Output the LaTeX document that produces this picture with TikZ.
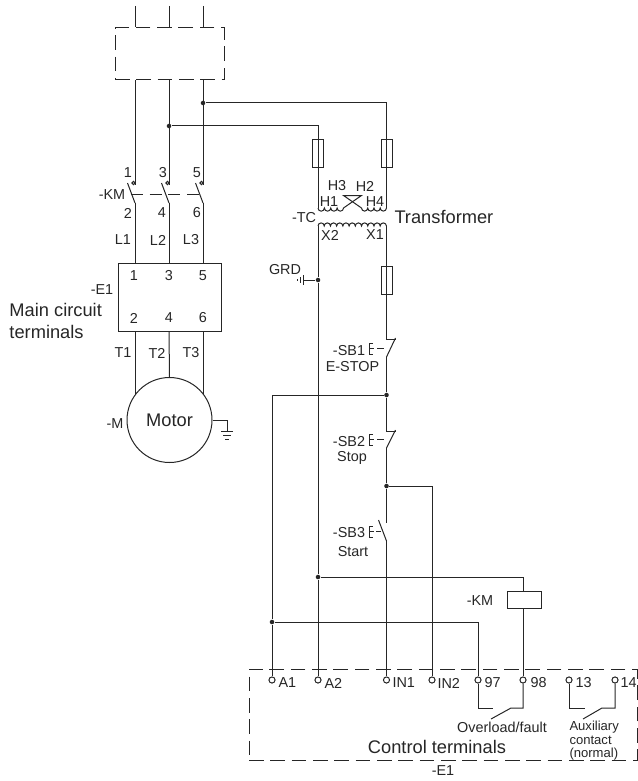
\documentclass[tikz,border=0pt]{standalone}
\usepackage{fontspec}
\setmainfont{Liberation Sans}
\definecolor{ink}{gray}{0.15}
\begin{document}
\begin{tikzpicture}[x=0.75pt,y=-0.75pt,line width=0.75pt,draw=ink,text=ink,
    lbl/.style={inner sep=0pt,font=\fontsize{10.8}{13}\selectfont},
    big/.style={inner sep=0pt,font=\fontsize{13.7}{16.5}\selectfont},
    tiny/.style={inner sep=0pt,font=\fontsize{9.8}{9.8}\selectfont},
    junction/.style={circle,fill=ink,draw=none,inner sep=0pt,minimum size=3.4pt},
    terminal/.style={circle,draw,fill=white,inner sep=0pt,minimum size=4.6pt},
    tip/.style={circle,draw,inner sep=0pt,minimum size=2.4pt},
    fuse/.style={rectangle,draw,inner sep=0pt,minimum width=8.25pt,minimum height=21pt},
    dashbox/.style={rectangle,draw,inner sep=0pt,dash pattern=on 11pt off 5pt}]
    \useasboundingbox (0,0) rectangle (638,781);

    % disconnect and main power
    \node[dashbox,minimum width=81.75pt,minimum height=39pt] (disc) at (169.5,54) {};
    \coordinate (l1) at (135,6);
    \coordinate (l2) at (169,6);
    \coordinate (l3) at (203,6);
    \draw (l1) -- (l1 |- disc.north);
    \draw (l2) -- (l2 |- disc.north);
    \draw (l3) -- (l3 |- disc.north);

    \coordinate (c1) at (135,185);
    \coordinate (c3) at (169,185);
    \coordinate (c5) at (203,185);
    \node[tip] (tip1) at (133.5,183) {};
    \node[tip] (tip3) at (167.5,183) {};
    \node[tip] (tip5) at (201.5,183) {};
    \coordinate (c2) at (135,203);
    \coordinate (c4) at (169,203);
    \coordinate (c6) at (203,203);
    \coordinate (b1) at (127.5,183);
    \coordinate (b3) at (161.5,183);
    \coordinate (b5) at (195.5,183);
    \draw (c1 |- disc.south) -- (c1);
    \draw (c3 |- disc.south) -- (c3);
    \draw (c5 |- disc.south) -- (c5);
    \draw (b1) -- (c2);
    \draw (b3) -- (c4);
    \draw (b5) -- (c6);
    \coordinate (linka) at (131,194);
    \coordinate (linkb) at (199,194);
    \draw[dash pattern=on 9pt off 5pt] (linka) -- (linkb);

    \node[lbl] (n1) at (128,173) {1};
    \node[lbl] (n3) at (163,173) {3};
    \node[lbl] (n5) at (197,173) {5};
    \node[lbl] (km) at (112,195) {-KM};
    \node[lbl] (n2) at (128,213) {2};
    \node[lbl] (n4) at (162,213) {4};
    \node[lbl] (n6) at (197,213) {6};
    \node[lbl] (tl1) at (123,240) {L1};
    \node[lbl] (tl2) at (158,240) {L2};
    \node[lbl] (tl3) at (191,240) {L3};

    % main circuit terminals
    \node[rectangle,draw,inner sep=0pt,minimum width=77.25pt,minimum height=51pt] (main) at (169.5,297) {};
    \draw (c2) -- (c2 |- main.north);
    \draw (c4) -- (c4 |- main.north);
    \draw (c6) -- (c6 |- main.north);
    \node[lbl] (m1) at (134,276) {1};
    \node[lbl] (m3) at (169,276) {3};
    \node[lbl] (m5) at (203,276) {5};
    \node[lbl] (m2) at (134,318) {2};
    \node[lbl] (m4) at (169,318) {4};
    \node[lbl] (m6) at (203,318) {6};
    \node[lbl] (e1a) at (102,290) {-E1};
    \node[big,align=left,anchor=west] (mainlbl) at (9,321) {Main circuit\\terminals};
    \node[lbl] (t1) at (123,353) {T1};
    \node[lbl] (t2) at (157,353) {T2};
    \node[lbl] (t3) at (191,353) {T3};

    % motor
    \node[circle,draw,inner sep=0pt,minimum size=63.75pt,big] (motor) at (169.5,420) {Motor};
    \node[lbl] (m) at (115,424) {-M};
    \draw (c2 |- main.south) -- (135,394);
    \draw (c4 |- main.south) -- (motor.north);
    \draw (c6 |- main.south) -- (203,394);
    \coordinate (gnda) at (227,420);
    \coordinate (gndb) at (227,431);
    \draw (motor.east) -- (gnda) -- (gndb);
    \draw (221,431) -- (233,431);
    \draw (223,435.5) -- (231,435.5);
    \draw (225,439) -- (229,439);

    % feeds and fuses
    \node[junction] (j3) at (203,103) {};
    \node[junction] (j2) at (169,126) {};
    \node[fuse] (f1) at (318,154) {};
    \node[fuse] (f2) at (386.5,154) {};
    \node[fuse] (f3) at (386.5,280) {};
    \coordinate (f1top) at (318,126);
    \coordinate (f2top) at (386.5,103);
    \coordinate (h1) at (318,208);
    \coordinate (h4) at (386.5,208);
    \draw (j3) -- (f2top) -- (h4);
    \draw (j2) -- (f1top) -- (h1);

    % transformer
    \coordinate (x2) at (318,226);
    \coordinate (x1) at (386.5,226);
    \coordinate (xa) at (343.5,195.5);
    \coordinate (xb) at (361.5,195.5);
    \coordinate (xc) at (343.5,208);
    \coordinate (xd) at (361.5,208);
    \draw (h1) \foreach \i in {1,...,4} {arc[start angle=180,end angle=0,radius=3.19]};
    \draw (xd) \foreach \i in {1,...,4} {arc[start angle=180,end angle=0,radius=3.12]};
    \draw (xc) -- (xb) -- (xa) -- (xd);
    \draw (x2) \foreach \i in {1,...,11} {arc[start angle=180,end angle=360,radius=3.11]};
    \node[lbl] (h3) at (337,186) {H3};
    \node[lbl] (h2) at (365,186) {H2};
    \node[lbl] (h1l) at (329,202) {H1};
    \node[lbl] (h4l) at (375,202) {H4};
    \node[lbl] (x2l) at (330,235) {X2};
    \node[lbl] (x1l) at (375,235) {X1};
    \node[lbl] (tc) at (304,218) {-TC};
    \node[big,anchor=west] (xfmr) at (394,217) {Transformer};

    % ground on X2
    \node[junction] (jg) at (318,280) {};
    \coordinate (ga) at (303,280);
    \draw (ga) -- (jg);
    \draw (303,275) -- (303,285);
    \draw (300,277) -- (300,283);
    \draw (297,279) -- (297,281);
    \node[lbl] (grd) at (285,270) {GRD};

    % control circuit
    \draw (x1) -- (f3.north);
    \draw (f3.north) -- (f3.south);
    \coordinate (sb1a) at (386.5,339);
    \coordinate (sb1b) at (386.5,357);
    \coordinate (sb1c) at (396,339);
    \coordinate (sb1d) at (395.5,338);
    \draw (f3.south) -- (sb1a) -- (sb1c);
    \draw (sb1b) -- (sb1d);
    \draw (373,343) -- (369,343) -- (369,354) -- (373,354) (369,348.5) -- (374,348.5);
    \draw (377,348.5) -- (384,348.5);
    \node[lbl] (sb1) at (349,350.5) {-SB1};
    \node[lbl] (estop) at (352.5,367) {E-STOP};

    \node[junction] (j4) at (386.5,395) {};
    \coordinate (sb2a) at (386.5,431);
    \coordinate (sb2b) at (386.5,448);
    \coordinate (sb2c) at (396,431);
    \coordinate (sb2d) at (395.5,430);
    \draw (sb1b) -- (j4) -- (sb2a) -- (sb2c);
    \draw (sb2b) -- (sb2d);
    \draw (373,434) -- (369,434) -- (369,445) -- (373,445) (369,439.5) -- (374,439.5);
    \draw (377,439.5) -- (384,439.5);
    \node[lbl] (sb2) at (349,441.5) {-SB2};
    \node[lbl] (stop) at (352,458) {Stop};

    \node[junction] (j5) at (386.5,486) {};
    \coordinate (sb3a) at (386.5,523);
    \coordinate (sb3b) at (386.5,541);
    \coordinate (sb3c) at (378.5,520);
    \draw (sb2b) -- (j5) -- (sb3a);
    \draw (sb3c) -- (sb3b);
    \draw (373,526) -- (369,526) -- (369,537) -- (373,537) (369,531.5) -- (374,531.5);
    \draw (376,531.5) -- (381,531.5);
    \node[lbl] (sb3) at (349,532.5) {-SB3};
    \node[lbl] (start) at (353,552) {Start};

    % control terminals
    \node[dashbox,minimum width=291pt,minimum height=68.25pt] (ctrl) at (443,714.5) {};
    \node[terminal] (a1) at (272,680) {};
    \node[terminal] (a2) at (318,680) {};
    \node[terminal] (in1) at (386.5,680) {};
    \node[terminal] (in2) at (432,680) {};
    \node[terminal] (t97) at (478,680) {};
    \node[terminal] (t98) at (523,680) {};
    \node[terminal] (t13) at (569,680) {};
    \node[terminal] (t14) at (615,680) {};
    \node[lbl,anchor=west] (a1l) at (278,683) {A1};
    \node[lbl,anchor=west] (a2l) at (324,683) {A2};
    \node[lbl,anchor=west] (in1l) at (392,683) {IN1};
    \node[lbl,anchor=west] (in2l) at (437,683) {IN2};
    \node[lbl,anchor=west] (l97) at (484,683) {97};
    \node[lbl,anchor=west] (l98) at (530,683) {98};
    \node[lbl,anchor=west] (l13) at (575,683) {13};
    \node[lbl,anchor=west] (l14) at (620,683) {14};

    \node[junction] (j6) at (272,622) {};
    \node[junction] (j7) at (318,577) {};
    \coordinate (a1top) at (272,395);
    \coordinate (in2top) at (432,486);
    \coordinate (k97) at (478,622);
    \coordinate (kmtop) at (523,577);
    \node[rectangle,draw,inner sep=0pt,minimum width=25.5pt,minimum height=12.75pt] (coil) at (524,599.5) {};
    \node[lbl] (kmc) at (480,601) {-KM};
    \draw (j4) -- (a1top) -- (j6) -- (a1);
    \draw (jg) -- (j7) -- (a2);
    \draw (x2) -- (jg);
    \draw (sb3b) -- (in1);
    \draw (j5) -- (in2top) -- (in2);
    \draw (j6) -- (k97) -- (t97);
    \draw (j7) -- (kmtop) -- (kmtop |- coil.north);
    \draw (kmtop |- coil.south) -- (t98);

    % overload and auxiliary contacts
    \coordinate (ola) at (478,708);
    \coordinate (olb) at (493,708);
    \coordinate (olc) at (491,719);
    \coordinate (old) at (511,708);
    \coordinate (ole) at (523,708);
    \draw (t97) -- (ola) -- (olb);
    \draw (olc) -- (old) -- (ole) -- (t98);
    \coordinate (axa) at (569,708);
    \coordinate (axb) at (585,708);
    \coordinate (axc) at (583,719);
    \coordinate (axd) at (602,708);
    \coordinate (axe) at (615,708);
    \draw (t13) -- (axa) -- (axb);
    \draw (axc) -- (axd) -- (axe) -- (t14);
    \node[lbl] (olbl) at (502,727) {Overload/fault};
    \node[tiny,align=left,anchor=north west] (axlbl) at (569,721) {Auxiliary\\contact\\(normal)};
    \node[big] (ctl) at (437,747) {Control terminals};
    \node[lbl] (e1b) at (443,771) {-E1};

\end{tikzpicture}
\end{document}
